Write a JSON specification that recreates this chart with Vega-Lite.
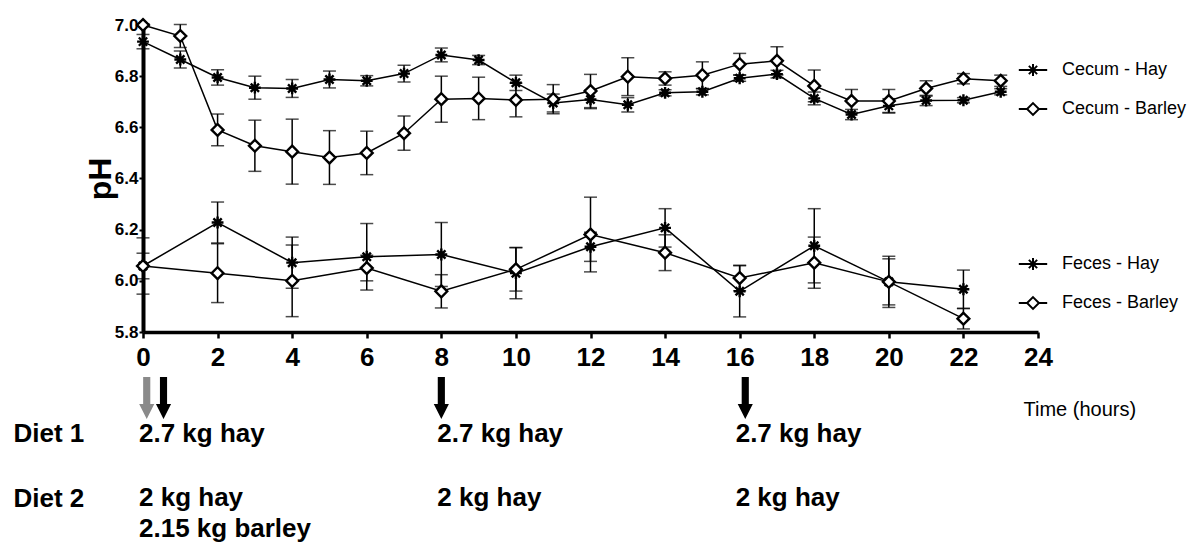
{
  "$schema": "https://vega.github.io/schema/vega-lite/v6.json",
  "padding": {"left": 13, "top": 14, "right": 0, "bottom": 0},
  "spacing": 45,
  "bounds": "flush",
  "config": {
    "font": "Liberation Sans",
    "view": {"stroke": null},
    "axis": {"grid": false, "domainColor": "black", "tickColor": "black", "labelColor": "black", "titleColor": "black", "labelFont": "Liberation Sans", "titleFont": "Liberation Sans"},
    "legend": {"labelFont": "Liberation Sans", "labelColor": "black"}
  },
  "datasets": {
    "ph": [
      {"site": "Cecum", "series": "Cecum - Hay", "hour": 0, "ph": 6.935, "se": 0.028},
      {"site": "Cecum", "series": "Cecum - Hay", "hour": 1, "ph": 6.865, "se": 0.033},
      {"site": "Cecum", "series": "Cecum - Hay", "hour": 2, "ph": 6.795, "se": 0.03},
      {"site": "Cecum", "series": "Cecum - Hay", "hour": 3, "ph": 6.755, "se": 0.045},
      {"site": "Cecum", "series": "Cecum - Hay", "hour": 4, "ph": 6.752, "se": 0.035},
      {"site": "Cecum", "series": "Cecum - Hay", "hour": 5, "ph": 6.787, "se": 0.033},
      {"site": "Cecum", "series": "Cecum - Hay", "hour": 6, "ph": 6.782, "se": 0.02},
      {"site": "Cecum", "series": "Cecum - Hay", "hour": 7, "ph": 6.81, "se": 0.033},
      {"site": "Cecum", "series": "Cecum - Hay", "hour": 8, "ph": 6.883, "se": 0.027},
      {"site": "Cecum", "series": "Cecum - Hay", "hour": 9, "ph": 6.863, "se": 0.018},
      {"site": "Cecum", "series": "Cecum - Hay", "hour": 10, "ph": 6.774, "se": 0.03},
      {"site": "Cecum", "series": "Cecum - Hay", "hour": 11, "ph": 6.695, "se": 0.035},
      {"site": "Cecum", "series": "Cecum - Hay", "hour": 12, "ph": 6.709, "se": 0.036},
      {"site": "Cecum", "series": "Cecum - Hay", "hour": 13, "ph": 6.688, "se": 0.028},
      {"site": "Cecum", "series": "Cecum - Hay", "hour": 14, "ph": 6.735, "se": 0.012},
      {"site": "Cecum", "series": "Cecum - Hay", "hour": 15, "ph": 6.739, "se": 0.012},
      {"site": "Cecum", "series": "Cecum - Hay", "hour": 16, "ph": 6.792, "se": 0.012},
      {"site": "Cecum", "series": "Cecum - Hay", "hour": 17, "ph": 6.808, "se": 0.015},
      {"site": "Cecum", "series": "Cecum - Hay", "hour": 18, "ph": 6.713, "se": 0.025},
      {"site": "Cecum", "series": "Cecum - Hay", "hour": 19, "ph": 6.65, "se": 0.02},
      {"site": "Cecum", "series": "Cecum - Hay", "hour": 20, "ph": 6.684, "se": 0.028},
      {"site": "Cecum", "series": "Cecum - Hay", "hour": 21, "ph": 6.705, "se": 0.02},
      {"site": "Cecum", "series": "Cecum - Hay", "hour": 22, "ph": 6.706, "se": 0.01},
      {"site": "Cecum", "series": "Cecum - Hay", "hour": 23, "ph": 6.739, "se": 0.012},
      {"site": "Cecum", "series": "Cecum - Barley", "hour": 0, "ph": 7.0, "se": 0.005},
      {"site": "Cecum", "series": "Cecum - Barley", "hour": 1, "ph": 6.957, "se": 0.045},
      {"site": "Cecum", "series": "Cecum - Barley", "hour": 2, "ph": 6.59, "se": 0.062},
      {"site": "Cecum", "series": "Cecum - Barley", "hour": 3, "ph": 6.528, "se": 0.1},
      {"site": "Cecum", "series": "Cecum - Barley", "hour": 4, "ph": 6.505, "se": 0.127},
      {"site": "Cecum", "series": "Cecum - Barley", "hour": 5, "ph": 6.482, "se": 0.105},
      {"site": "Cecum", "series": "Cecum - Barley", "hour": 6, "ph": 6.5, "se": 0.085},
      {"site": "Cecum", "series": "Cecum - Barley", "hour": 7, "ph": 6.577, "se": 0.067},
      {"site": "Cecum", "series": "Cecum - Barley", "hour": 8, "ph": 6.71, "se": 0.09},
      {"site": "Cecum", "series": "Cecum - Barley", "hour": 9, "ph": 6.713, "se": 0.083},
      {"site": "Cecum", "series": "Cecum - Barley", "hour": 10, "ph": 6.707, "se": 0.066},
      {"site": "Cecum", "series": "Cecum - Barley", "hour": 11, "ph": 6.71, "se": 0.057},
      {"site": "Cecum", "series": "Cecum - Barley", "hour": 12, "ph": 6.742, "se": 0.065},
      {"site": "Cecum", "series": "Cecum - Barley", "hour": 13, "ph": 6.798, "se": 0.074},
      {"site": "Cecum", "series": "Cecum - Barley", "hour": 14, "ph": 6.791, "se": 0.026},
      {"site": "Cecum", "series": "Cecum - Barley", "hour": 15, "ph": 6.804, "se": 0.052},
      {"site": "Cecum", "series": "Cecum - Barley", "hour": 16, "ph": 6.847, "se": 0.042},
      {"site": "Cecum", "series": "Cecum - Barley", "hour": 17, "ph": 6.86, "se": 0.055},
      {"site": "Cecum", "series": "Cecum - Barley", "hour": 18, "ph": 6.762, "se": 0.062},
      {"site": "Cecum", "series": "Cecum - Barley", "hour": 19, "ph": 6.703, "se": 0.045},
      {"site": "Cecum", "series": "Cecum - Barley", "hour": 20, "ph": 6.703, "se": 0.045},
      {"site": "Cecum", "series": "Cecum - Barley", "hour": 21, "ph": 6.752, "se": 0.03},
      {"site": "Cecum", "series": "Cecum - Barley", "hour": 22, "ph": 6.79, "se": 0.02},
      {"site": "Cecum", "series": "Cecum - Barley", "hour": 23, "ph": 6.782, "se": 0.022},
      {"site": "Feces", "series": "Feces - Hay", "hour": 0, "ph": 6.058, "se": 0.11},
      {"site": "Feces", "series": "Feces - Hay", "hour": 2, "ph": 6.228, "se": 0.08},
      {"site": "Feces", "series": "Feces - Hay", "hour": 4, "ph": 6.071, "se": 0.1},
      {"site": "Feces", "series": "Feces - Hay", "hour": 6, "ph": 6.094, "se": 0.13},
      {"site": "Feces", "series": "Feces - Hay", "hour": 8, "ph": 6.103, "se": 0.125},
      {"site": "Feces", "series": "Feces - Hay", "hour": 10, "ph": 6.03, "se": 0.1},
      {"site": "Feces", "series": "Feces - Hay", "hour": 12, "ph": 6.133, "se": 0.057},
      {"site": "Feces", "series": "Feces - Hay", "hour": 14, "ph": 6.207, "se": 0.075},
      {"site": "Feces", "series": "Feces - Hay", "hour": 16, "ph": 5.959, "se": 0.1},
      {"site": "Feces", "series": "Feces - Hay", "hour": 18, "ph": 6.137, "se": 0.145},
      {"site": "Feces", "series": "Feces - Hay", "hour": 20, "ph": 5.996, "se": 0.09},
      {"site": "Feces", "series": "Feces - Hay", "hour": 22, "ph": 5.967, "se": 0.075},
      {"site": "Feces", "series": "Feces - Barley", "hour": 0, "ph": 6.058, "se": 0.05},
      {"site": "Feces", "series": "Feces - Barley", "hour": 2, "ph": 6.03, "se": 0.115},
      {"site": "Feces", "series": "Feces - Barley", "hour": 4, "ph": 6.0, "se": 0.14},
      {"site": "Feces", "series": "Feces - Barley", "hour": 6, "ph": 6.05, "se": 0.05},
      {"site": "Feces", "series": "Feces - Barley", "hour": 8, "ph": 5.959, "se": 0.065},
      {"site": "Feces", "series": "Feces - Barley", "hour": 10, "ph": 6.045, "se": 0.085},
      {"site": "Feces", "series": "Feces - Barley", "hour": 12, "ph": 6.181, "se": 0.146},
      {"site": "Feces", "series": "Feces - Barley", "hour": 14, "ph": 6.11, "se": 0.07},
      {"site": "Feces", "series": "Feces - Barley", "hour": 16, "ph": 6.011, "se": 0.05},
      {"site": "Feces", "series": "Feces - Barley", "hour": 18, "ph": 6.071, "se": 0.1},
      {"site": "Feces", "series": "Feces - Barley", "hour": 20, "ph": 5.996, "se": 0.1},
      {"site": "Feces", "series": "Feces - Barley", "hour": 22, "ph": 5.852, "se": 0.04}
    ],
    "feeds": [
      {"hour": 0.1, "row": "feed", "feed": "barley"},
      {"hour": 0.55, "row": "feed", "feed": "hay"},
      {"hour": 8, "row": "feed", "feed": "hay"},
      {"hour": 16.15, "row": "feed", "feed": "hay"}
    ],
    "rations": [
      {"hour": 0, "row": "Diet 1", "label": "2.7 kg hay"},
      {"hour": 8, "row": "Diet 1", "label": "2.7 kg hay"},
      {"hour": 16, "row": "Diet 1", "label": "2.7 kg hay"},
      {"hour": 0, "row": "Diet 2", "label": ["2 kg hay", "2.15 kg barley"]},
      {"hour": 8, "row": "Diet 2", "label": "2 kg hay"},
      {"hour": 16, "row": "Diet 2", "label": "2 kg hay"}
    ]
  },
  "vconcat": [
    {
      "width": 895,
      "height": 307,
      "data": {"name": "ph"},
      "encoding": {
        "x": {
          "field": "hour", "type": "quantitative",
          "scale": {"domain": [0, 24], "nice": false},
          "axis": {
            "values": [0, 2, 4, 6, 8, 10, 12, 14, 16, 18, 20, 22, 24],
            "format": "d",
            "title": "Time (hours)",
            "titleX": 880, "titleY": 77, "titleAlign": "left", "titleBaseline": "middle", "titleAnchor": "start",
            "titleFontSize": 20, "titleFontWeight": "normal",
            "labelFontSize": 26, "labelFontWeight": "bold", "labelPadding": 6,
            "labelFlush": false, "labelOverlap": false,
            "tickSize": 6, "tickWidth": 2.5, "domainWidth": 3.5
          }
        },
        "y": {
          "field": "ph", "type": "quantitative",
          "scale": {"domain": [5.8, 7.0], "nice": false, "zero": false},
          "axis": {
            "values": [5.8, 6.0, 6.2, 6.4, 6.6, 6.8, 7.0],
            "format": ".1f",
            "title": "pH", "titleFontSize": 32, "titleFontWeight": "bold", "titlePadding": -3,
            "labelFontSize": 17, "labelFontWeight": "bold", "labelPadding": 1,
            "labelFlush": false, "labelOverlap": false,
            "tickSize": 4, "tickWidth": 2, "domainWidth": 4
          }
        }
      },
      "layer": [
        {
          "transform": [{"filter": "datum.site == 'Cecum'"}],
          "layer": [
            {"mark": {"type": "errorbar", "ticks": {"size": 13}, "thickness": 1.5, "color": "black"}, "encoding": {"yError": {"field": "se"}}},
            {"mark": {"type": "line", "color": "black", "strokeWidth": 1.5}, "encoding": {"detail": {"field": "series"}}},
            {
              "mark": {"type": "point", "filled": true, "fill": "white", "stroke": "black", "strokeWidth": 2.4, "size": 140, "opacity": 1},
              "encoding": {"shape": {"field": "series", "type": "nominal",
                "scale": {"domain": ["Cecum - Hay", "Cecum - Barley"], "range": ["M-1,0L1,0M0,-1L0,1M-0.7,-0.7L0.7,0.7M-0.7,0.7L0.7,-0.7", "M0,-1L1,0L0,1L-1,0Z"]},
                "legend": null}}
            },
            {
              "transform": [{"filter": "false"}],
              "mark": {"type": "point", "filled": false, "fill": "white", "stroke": "black", "strokeWidth": 2, "size": 140, "opacity": 1},
              "encoding": {"shape": {"field": "series", "type": "nominal",
                "scale": {"domain": ["Cecum - Hay", "Cecum - Barley"], "range": ["M-2.4,0L2.4,0M0,-1L0,1M-0.7,-0.7L0.7,0.7M-0.7,0.7L0.7,-0.7", "M-2.4,0L-1,0M1,0L2.4,0M0,-1L1,0L0,1L-1,0Z"]},
                "legend": {"title": null, "orient": "none", "legendX": 881, "legendY": 36, "padding": 0, "rowPadding": 19, "labelOffset": 20, "labelFontSize": 18, "labelLimit": 300, "symbolSize": 140, "symbolStrokeWidth": 2}}}
            }
          ],
          "resolve": {"scale": {"shape": "independent"}}
        },
        {
          "transform": [{"filter": "datum.site == 'Feces'"}],
          "layer": [
            {"mark": {"type": "errorbar", "ticks": {"size": 13}, "thickness": 1.5, "color": "black"}, "encoding": {"yError": {"field": "se"}}},
            {"mark": {"type": "line", "color": "black", "strokeWidth": 1.5}, "encoding": {"detail": {"field": "series"}}},
            {
              "mark": {"type": "point", "filled": true, "fill": "white", "stroke": "black", "strokeWidth": 2.4, "size": 140, "opacity": 1},
              "encoding": {"shape": {"field": "series", "type": "nominal",
                "scale": {"domain": ["Feces - Hay", "Feces - Barley"], "range": ["M-1,0L1,0M0,-1L0,1M-0.7,-0.7L0.7,0.7M-0.7,0.7L0.7,-0.7", "M0,-1L1,0L0,1L-1,0Z"]},
                "legend": null}}
            },
            {
              "transform": [{"filter": "false"}],
              "mark": {"type": "point", "filled": false, "fill": "white", "stroke": "black", "strokeWidth": 2, "size": 140, "opacity": 1},
              "encoding": {"shape": {"field": "series", "type": "nominal",
                "scale": {"domain": ["Feces - Hay", "Feces - Barley"], "range": ["M-2.4,0L2.4,0M0,-1L0,1M-0.7,-0.7L0.7,0.7M-0.7,0.7L0.7,-0.7", "M-2.4,0L-1,0M1,0L2.4,0M0,-1L1,0L0,1L-1,0Z"]},
                "legend": {"title": null, "orient": "none", "legendX": 881, "legendY": 230, "padding": 0, "rowPadding": 19, "labelOffset": 20, "labelFontSize": 18, "labelLimit": 300, "symbolSize": 140, "symbolStrokeWidth": 2}}}
            }
          ],
          "resolve": {"scale": {"shape": "independent"}}
        }
      ],
      "resolve": {"scale": {"shape": "independent"}}
    },
    {
      "width": 895,
      "height": 129,
      "encoding": {
        "x": {"field": "hour", "type": "quantitative", "scale": {"domain": [0, 24], "nice": false}, "axis": null},
        "y": {
          "field": "row", "type": "nominal",
          "scale": {"type": "point", "domain": ["feed", "Diet 1", "Diet 2"], "padding": 0},
          "axis": {"title": null, "domain": false, "ticks": false, "tickSize": 0, "labelAlign": "left", "labelBaseline": "alphabetic", "labelPadding": 130, "labelFontSize": 26, "labelFontWeight": "bold", "labelLimit": 200, "labelExpr": "datum.value == 'feed' ? '' : datum.value"}
        }
      },
      "layer": [
        {
          "data": {"name": "feeds"},
          "mark": {"type": "point", "filled": true, "opacity": 1, "size": 1764, "shape": "M-0.17,0L0.17,0L0.17,1.28L0.36,1.28L0,2L-0.36,1.28L-0.17,1.28Z"},
          "encoding": {"color": {"field": "feed", "type": "nominal", "scale": {"domain": ["barley", "hay"], "range": ["#8a8a8a", "black"]}, "legend": null}}
        },
        {
          "data": {"name": "rations"},
          "mark": {"type": "text", "align": "left", "baseline": "alphabetic", "fontSize": 26, "fontWeight": "bold", "lineHeight": 31, "color": "black", "dx": -4},
          "encoding": {"text": {"field": "label"}}
        }
      ]
    }
  ]
}
